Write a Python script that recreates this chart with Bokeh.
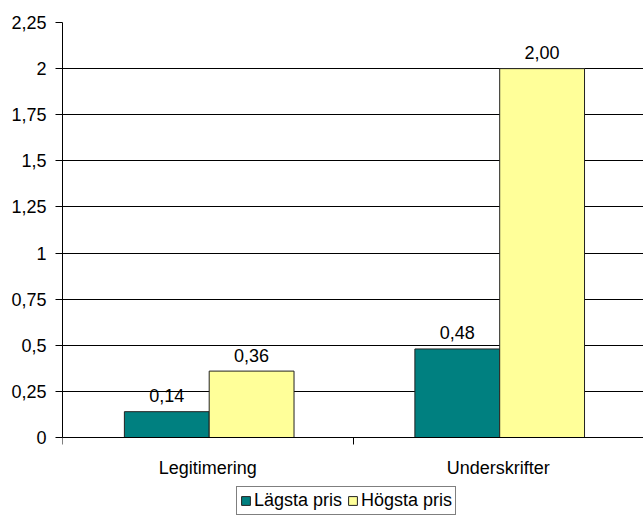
from bokeh.plotting import figure
from bokeh.models import Range1d, FixedTicker, Legend, LegendItem, ColumnDataSource
from bokeh.core.properties import value
from bokeh.embed import file_html
from bokeh.resources import INLINE

categories = ["Legitimering", "Underskrifter"]
series_names = ["Lägsta pris", "Högsta pris"]
lagsta = [0.14, 0.48]
hogsta = [0.36, 2.00]
value_labels_lagsta = ["0,14", "0,48"]
value_labels_hogsta = ["0,36", "2,00"]
y_ticks = [0, 0.25, 0.5, 0.75, 1, 1.25, 1.5, 1.75, 2, 2.25]
y_tick_labels = ["0", "0,25", "0,5", "0,75", "1", "1,25", "1,5", "1,75", "2", "2,25"]

FONT = "Liberation Sans"
FS = "18px"
BW = 0.292

W, H = 643, 515
TOP, LEFT = 22, 62
ZERO_Y = 437
y_max = y_ticks[-1]
px_per_unit = (ZERO_Y - TOP) / y_max
y_min = -(H - ZERO_Y) / px_per_unit

centers = [i + 0.505 for i in range(len(categories))]
src_l = ColumnDataSource(dict(x=[c - BW / 2 for c in centers], top=lagsta, lab=value_labels_lagsta))
src_h = ColumnDataSource(dict(x=[c + BW / 2 for c in centers], top=hogsta, lab=value_labels_hogsta))

p = figure(width=W, height=H, output_backend="svg", toolbar_location=None,
           x_range=Range1d(0, len(categories)), y_range=Range1d(y_min, y_max),
           min_border_left=LEFT, min_border_right=0, min_border_top=TOP, min_border_bottom=0)
p.outline_line_color = None
p.background_fill_color = "white"

r1 = p.vbar(x="x", top="top", width=BW, bottom=0, source=src_l,
            fill_color="#008080", line_color="#222222", line_width=1)
r2 = p.vbar(x="x", top="top", width=BW, bottom=0, source=src_h,
            fill_color="#FFFF99", line_color="#222222", line_width=1)

for src in (src_l, src_h):
    p.text(x="x", y="top", text="lab", source=src, text_align="center",
           text_baseline="alphabetic", y_offset=-16, text_font_size=FS,
           text_font=value(FONT), text_color="black")

# y axis
p.yaxis.ticker = FixedTicker(ticks=y_ticks)
p.yaxis.bounds = (0, y_max)
p.yaxis.major_label_overrides = {t: l for t, l in zip(y_ticks, y_tick_labels)}
p.yaxis.major_label_text_font = FONT
p.yaxis.major_label_text_font_size = FS
p.yaxis.major_label_text_color = "black"
p.yaxis.axis_line_color = "black"
p.yaxis.major_tick_line_color = "black"
p.yaxis.major_tick_out = 7
p.yaxis.major_tick_in = 0
p.yaxis.minor_tick_line_color = None
p.yaxis.major_label_standoff = 9

# x axis at y=0: labels at centres, ticks at boundaries
label_pos = [i + 0.5 for i in range(len(categories))]
p.xaxis.fixed_location = 0
p.xaxis.ticker = FixedTicker(ticks=label_pos, minor_ticks=list(range(len(categories) + 1)))
p.xaxis.major_label_overrides = {t: c for t, c in zip(label_pos, categories)}
p.xaxis.major_label_text_font = FONT
p.xaxis.major_label_text_font_size = FS
p.xaxis.major_label_text_color = "black"
p.xaxis.axis_line_color = "black"
p.xaxis.major_tick_line_color = None
p.xaxis.major_tick_out = 7
p.xaxis.major_tick_in = 0
p.xaxis.minor_tick_line_color = "black"
p.xaxis.minor_tick_out = 7
p.xaxis.minor_tick_in = 0
p.xaxis.major_label_standoff = 13

p.xgrid.grid_line_color = None
p.ygrid.grid_line_color = "black"
p.ygrid.grid_line_width = 1
p.ygrid.bounds = (0, y_max)

legend = Legend(items=[LegendItem(label=series_names[0], renderers=[r1]),
                       LegendItem(label=series_names[1], renderers=[r2])],
                orientation="horizontal", location=(174, 0))
legend.label_text_font = FONT
legend.label_text_font_size = FS
legend.label_text_color = "black"
legend.glyph_width = 11
legend.glyph_height = 11
legend.label_standoff = 3
legend.spacing = 5
legend.padding = 3
legend.margin = 0
legend.border_line_color = "black"
legend.border_line_width = 1
legend.background_fill_alpha = 1
p.add_layout(legend, "center")

open("out.html", "w").write(file_html(p, INLINE))
